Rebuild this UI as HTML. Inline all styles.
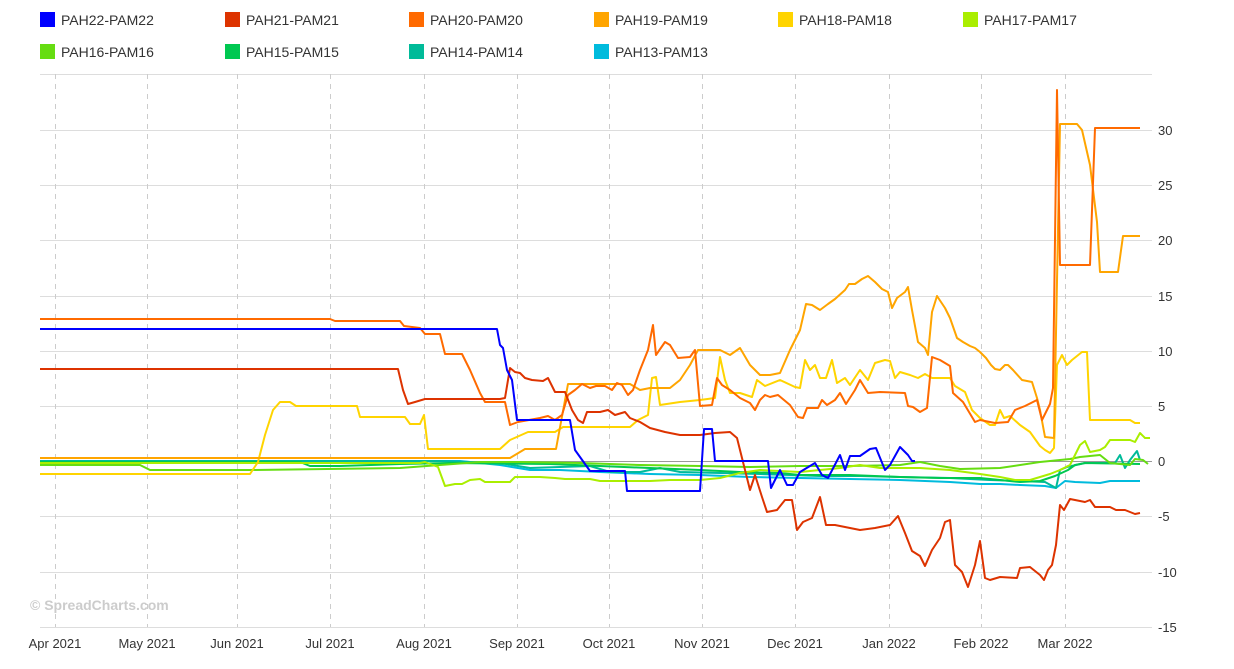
<!DOCTYPE html>
<html><head><meta charset="utf-8"><style>
body{margin:0;background:#fff;font-family:"Liberation Sans",sans-serif;}
</style></head><body>
<svg width="1234" height="664" xmlns="http://www.w3.org/2000/svg" font-family="Liberation Sans, sans-serif">
<g font-size="14" fill="#333">
<rect x="40" y="12" width="15" height="15" fill="#0000ff"/><text x="61" y="25">PAH22-PAM22</text>
<rect x="225" y="12" width="15" height="15" fill="#dd3300"/><text x="246" y="25">PAH21-PAM21</text>
<rect x="409" y="12" width="15" height="15" fill="#ff6a00"/><text x="430" y="25">PAH20-PAM20</text>
<rect x="594" y="12" width="15" height="15" fill="#ffa500"/><text x="615" y="25">PAH19-PAM19</text>
<rect x="778" y="12" width="15" height="15" fill="#ffd400"/><text x="799" y="25">PAH18-PAM18</text>
<rect x="963" y="12" width="15" height="15" fill="#aaee00"/><text x="984" y="25">PAH17-PAM17</text>
<rect x="40" y="44" width="15" height="15" fill="#66dd11"/><text x="61" y="57">PAH16-PAM16</text>
<rect x="225" y="44" width="15" height="15" fill="#00c851"/><text x="246" y="57">PAH15-PAM15</text>
<rect x="409" y="44" width="15" height="15" fill="#00bb99"/><text x="430" y="57">PAH14-PAM14</text>
<rect x="594" y="44" width="15" height="15" fill="#00bbdd"/><text x="615" y="57">PAH13-PAM13</text>
</g>
<g stroke="#ddd" stroke-width="1">
<line x1="40" y1="74.5" x2="1152" y2="74.5"/>
<line x1="40" y1="130.5" x2="1152" y2="130.5"/><line x1="40" y1="185.5" x2="1152" y2="185.5"/>
<line x1="40" y1="240.5" x2="1152" y2="240.5"/><line x1="40" y1="296.5" x2="1152" y2="296.5"/>
<line x1="40" y1="351.5" x2="1152" y2="351.5"/><line x1="40" y1="406.5" x2="1152" y2="406.5"/>
<line x1="40" y1="516.5" x2="1152" y2="516.5"/><line x1="40" y1="572.5" x2="1152" y2="572.5"/>
<line x1="40" y1="627.5" x2="1152" y2="627.5"/>
</g>
<g stroke="#ccc" stroke-dasharray="5,5">
<line x1="55.5" y1="74" x2="55.5" y2="627"/><line x1="147.5" y1="74" x2="147.5" y2="627"/>
<line x1="237.5" y1="74" x2="237.5" y2="627"/><line x1="330.5" y1="74" x2="330.5" y2="627"/>
<line x1="424.5" y1="74" x2="424.5" y2="627"/><line x1="517.5" y1="74" x2="517.5" y2="627"/>
<line x1="609.5" y1="74" x2="609.5" y2="627"/><line x1="702.5" y1="74" x2="702.5" y2="627"/>
<line x1="795.5" y1="74" x2="795.5" y2="627"/><line x1="889.5" y1="74" x2="889.5" y2="627"/>
<line x1="981.5" y1="74" x2="981.5" y2="627"/><line x1="1065.5" y1="74" x2="1065.5" y2="627"/>
</g>
<line x1="40" y1="461.5" x2="1152" y2="461.5" stroke="#999"/>
<g font-size="13" fill="#333">
<text x="1158" y="135">30</text><text x="1158" y="190">25</text><text x="1158" y="245">20</text>
<text x="1158" y="301">15</text><text x="1158" y="356">10</text><text x="1158" y="411">5</text>
<text x="1158" y="466">0</text><text x="1158" y="521">-5</text><text x="1158" y="577">-10</text>
<text x="1158" y="632">-15</text>
</g>
<g font-size="13" fill="#333" text-anchor="middle">
<text x="55" y="648">Apr 2021</text><text x="147" y="648">May 2021</text><text x="237" y="648">Jun 2021</text>
<text x="330" y="648">Jul 2021</text><text x="424" y="648">Aug 2021</text><text x="517" y="648">Sep 2021</text>
<text x="609" y="648">Oct 2021</text><text x="702" y="648">Nov 2021</text><text x="795" y="648">Dec 2021</text>
<text x="889" y="648">Jan 2022</text><text x="981" y="648">Feb 2022</text><text x="1065" y="648">Mar 2022</text>
</g>
<text x="30" y="610" font-size="14" font-weight="bold" fill="#ccc">© SpreadCharts.com</text>
<g fill="none" stroke-width="2" stroke-linejoin="round">
<polyline stroke="#00bbdd" points="40,461 460,461 500,465 530,470 560,470 600,472 650,474 700,475 750,477 800,478 850,479 900,480 950,482 980,484 1000,484 1020,485 1045,486 1056,488 1065,481 1075,482 1100,483 1110,481 1140,481"/>
<polyline stroke="#00bb99" points="40,461 440,461 500,463 530,468 560,467 590,466 610,472 640,472 660,468 680,472 720,473 760,474 790,475 820,476 860,476 900,477 950,478 990,480 1020,481 1045,482 1056,488 1060,470 1067,467 1085,463 1115,463 1120,455 1125,468 1130,460 1137,451 1140,460"/>
<polyline stroke="#00c851" points="40,462 300,462 310,466 340,466 400,464 450,463 550,464 600,466 650,468 700,470 740,472 780,473 800,475 850,475 900,477 940,478 980,478 1000,480 1020,482 1040,481 1055,476 1068,470 1075,465 1085,463 1140,464"/>
<polyline stroke="#66dd11" points="40,465 140,465 150,470 250,470 400,468 440,465 480,462 520,462 580,463 640,465 700,466 750,467 800,466 850,466 900,465 920,462 940,466 960,469 1000,468 1040,462 1060,460 1070,459 1080,457 1100,455 1110,463 1130,465 1135,459 1143,460 1148,464"/>
<polyline stroke="#aaee00" points="40,463 420,463 425,462 438,467 445,486 455,484 462,484 470,480 480,479 485,482 510,482 515,477 540,477 555,478 565,479 590,479 600,481 650,481 670,480 700,480 720,478 740,473 760,470 800,472 840,468 860,465 880,468 900,468 920,468 950,470 980,474 1000,477 1015,480 1030,480 1050,474 1060,470 1070,465 1080,445 1085,441 1090,452 1100,450 1105,447 1110,440 1130,440 1135,442 1140,433 1145,438 1150,438"/>
<polyline stroke="#ffd400" points="40,474 250,474 258,462 265,435 273,410 280,402 290,402 296,406 357,406 360,417 405,417 410,424 420,424 424,415 428,449 500,449 510,440 528,432 555,432 563,427 630,427 638,420 648,415 652,378 656,377 660,405 680,402 700,400 715,398 720,357 725,380 730,393 740,393 752,397 757,380 765,386 780,380 795,387 800,388 805,360 810,370 815,365 820,378 826,378 832,360 837,383 845,378 850,385 860,370 868,380 875,363 885,360 890,361 895,378 900,372 910,375 918,378 925,374 932,378 950,378 955,386 965,392 972,410 980,418 990,425 995,425 1000,410 1004,418 1010,416 1020,425 1030,432 1040,446 1045,450 1050,453 1054,448 1057,365 1062,355 1067,365 1072,360 1082,352 1087,352 1090,420 1130,420 1135,423 1140,423"/>
<polyline stroke="#ffa500" points="40,458 510,458 515,455 525,449 556,449 568,384 630,384 640,390 650,388 670,388 680,380 690,365 698,350 720,350 730,355 740,348 750,365 760,375 770,375 780,373 790,350 800,330 806,304 812,305 820,310 828,304 835,299 845,290 849,284 855,284 862,279 868,276 875,282 882,289 888,292 892,308 897,298 905,292 908,287 912,310 918,342 925,348 928,355 932,312 937,296 945,308 950,318 957,338 963,342 970,346 975,348 980,352 986,358 991,365 995,369 1000,370 1005,365 1008,365 1013,370 1022,380 1032,382 1037,398 1040,410 1045,437 1054,438 1060,124 1077,124 1082,130 1090,165 1097,222 1100,272 1118,272 1123,236 1140,236"/>
<polyline stroke="#ff6a00" points="40,319 330,319 335,321 400,321 404,326 420,328 425,334 440,334 445,354 462,354 470,370 480,393 485,402 505,402 510,425 518,422 540,418 548,416 555,420 562,415 568,395 575,390 582,384 590,388 596,386 605,386 612,390 617,383 622,385 628,395 633,390 640,370 648,350 653,325 656,355 665,342 670,345 678,358 690,357 695,350 700,406 712,405 717,378 722,385 730,390 740,398 750,403 755,410 760,400 765,395 770,397 778,395 784,400 790,405 798,417 803,418 807,408 818,408 822,400 827,405 835,400 840,393 846,404 855,390 860,380 868,393 880,392 905,393 908,406 913,407 920,412 927,408 932,357 940,360 950,366 953,393 963,402 975,422 980,420 995,423 1008,422 1015,410 1025,406 1037,400 1042,420 1050,404 1053,388 1057,90 1060,265 1090,265 1095,128 1140,128"/>
<polyline stroke="#dd3300" points="40,369 398,369 403,390 408,404 415,402 425,399 500,399 505,398 510,368 515,372 520,373 525,378 532,380 543,381 548,378 555,392 565,392 572,410 578,420 583,423 587,412 600,412 608,410 615,415 625,412 630,418 640,422 650,428 665,432 680,435 700,435 715,433 730,432 737,438 745,470 750,490 755,475 762,497 767,512 777,510 785,500 792,500 797,530 803,522 812,518 820,497 826,525 835,525 845,527 860,530 875,528 890,525 898,516 905,533 912,551 920,556 925,566 932,550 940,538 945,522 950,520 955,565 962,572 968,587 975,565 980,541 985,578 990,580 1000,577 1017,578 1020,568 1030,567 1040,575 1044,580 1048,570 1052,565 1056,545 1060,505 1064,510 1070,499 1085,502 1090,500 1095,507 1110,507 1116,510 1125,510 1135,514 1140,513"/>
<polyline stroke="#0000ff" points="40,329 497,329 500,345 503,348 507,370 512,380 517,420 570,420 575,450 590,471 625,471 627,491 700,491 704,429 712,429 715,461 768,461 771,488 780,470 787,485 793,485 800,472 815,463 822,475 828,478 840,455 845,470 850,456 860,456 870,449 876,448 885,470 890,465 900,447 908,455 912,461 915,461"/>
</g>
</svg>
</body></html>
